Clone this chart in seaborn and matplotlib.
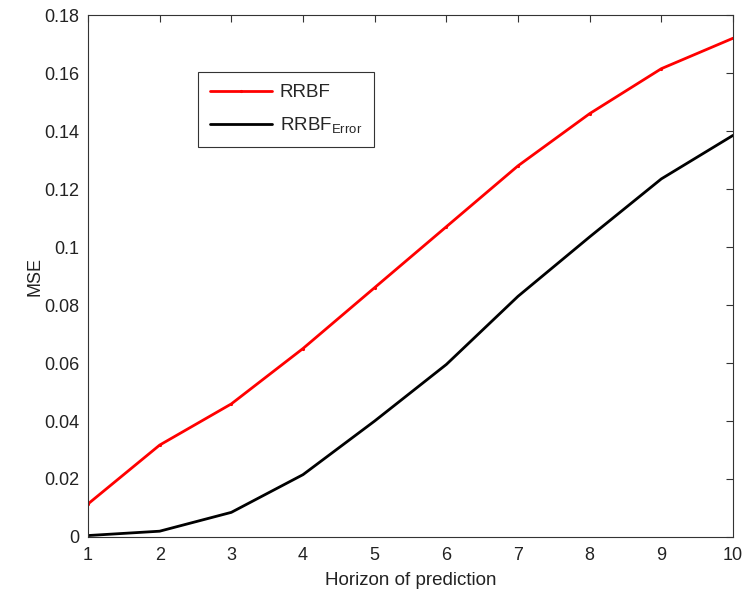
import matplotlib
matplotlib.use("Agg")
import matplotlib.pyplot as plt
import seaborn as sns
import pandas as pd

horizon = [1, 2, 3, 4, 5, 6, 7, 8, 9, 10]
rrbf = [0.0114, 0.0317, 0.0459, 0.065, 0.086, 0.107, 0.128, 0.146, 0.1615, 0.172]
rrbf_error = [0.0005, 0.002, 0.0085, 0.0215, 0.040, 0.0595, 0.083, 0.1035, 0.1235, 0.1385]
xticks = [1, 2, 3, 4, 5, 6, 7, 8, 9, 10]
yticks = [0, 0.02, 0.04, 0.06, 0.08, 0.1, 0.12, 0.14, 0.16, 0.18]
ytick_labels = ["0", "0.02", "0.04", "0.06", "0.08", "0.1", "0.12", "0.14", "0.16", "0.18"]

sns.set_style("white")
plt.rcParams['font.family'] = ['Liberation Sans', 'DejaVu Sans']
plt.rcParams['mathtext.fontset'] = 'custom'
plt.rcParams['mathtext.rm'] = 'Liberation Sans'
plt.rcParams['mathtext.it'] = 'Liberation Sans'

df = pd.DataFrame({"h": horizon, "RRBF": rrbf, "RRBF_Error": rrbf_error})

fig = plt.figure(figsize=(7.47, 5.96), dpi=100)
ax = fig.add_axes([0.1178, 0.099, 0.8635, 0.8758])

sns.lineplot(data=df, x="h", y="RRBF", ax=ax, color="#ff0000", lw=2,
             marker=".", markersize=3, markeredgecolor="#ff0000", label="RRBF")
sns.lineplot(data=df, x="h", y="RRBF_Error", ax=ax, color="black", lw=2,
             label=r"RRBF$_{\mathrm{Error}}$")

ax.set_xlim(1, 10)
ax.set_ylim(0, 0.18)
ax.set_xticks(xticks)
ax.set_xticklabels([str(v) for v in xticks])
ax.set_yticks(yticks)
ax.set_yticklabels(ytick_labels)
ax.tick_params(direction="in", top=True, right=True, length=5, labelsize=13,
               color="#333333", labelcolor="#222222")
ax.tick_params(axis="y", pad=6)
ax.tick_params(axis="x", pad=7)
ax.set_xlabel("Horizon of prediction", fontsize=13.5, color="#222222", labelpad=6)
ax.set_ylabel("MSE", fontsize=13, color="#222222", labelpad=1)
for s in ax.spines.values():
    s.set_color("#333333")
    s.set_linewidth(0.8)

leg = ax.legend(loc="upper left", bbox_to_anchor=(0.1705, 0.891), borderaxespad=0,
                fontsize=13.5, frameon=True, fancybox=False, framealpha=1,
                edgecolor="#333333", handlelength=3.3, handletextpad=0.4,
                borderpad=0.65, labelspacing=0.75)
leg.get_frame().set_linewidth(0.8)

fig.savefig("out.png", dpi=100)
